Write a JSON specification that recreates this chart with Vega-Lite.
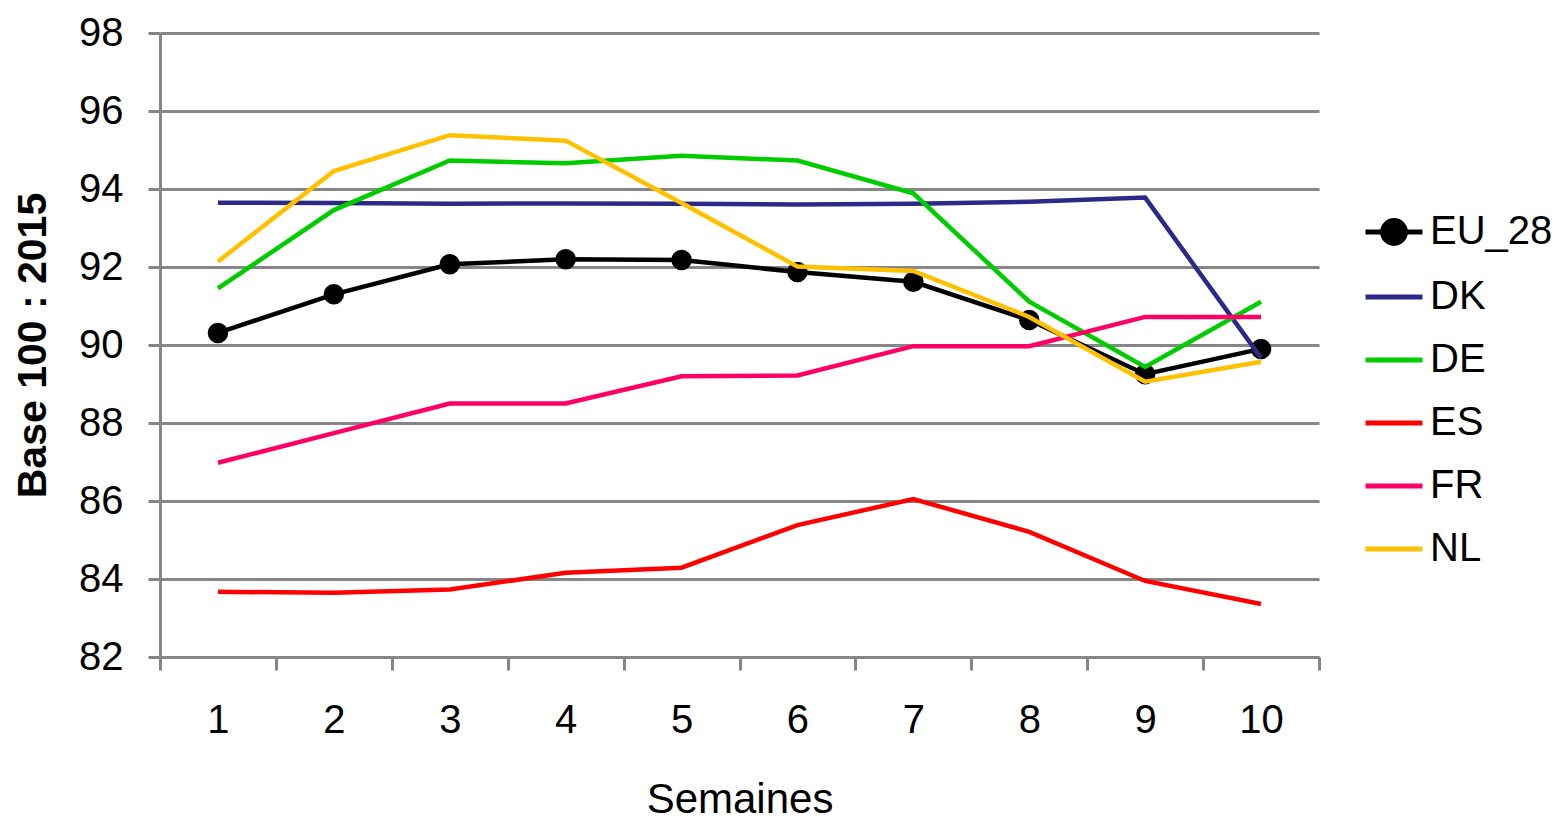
{
  "$schema": "https://vega.github.io/schema/vega-lite/v6.json",
  "width": 1159,
  "height": 624,
  "autosize": {"type": "none"},
  "padding": {"left": 160, "top": 33, "right": 237, "bottom": 164},
  "background": "white",
  "config": {
    "font": "Liberation Sans",
    "view": {"stroke": null},
    "axis": {"labelColor": "black", "titleColor": "black", "labelFont": "Liberation Sans", "titleFont": "Liberation Sans"},
    "legend": {"labelFont": "Liberation Sans"}
  },
  "data": {
    "values": [
      {"week": 1, "series": "EU_28", "value": 90.31},
      {"week": 2, "series": "EU_28", "value": 91.3},
      {"week": 3, "series": "EU_28", "value": 92.07},
      {"week": 4, "series": "EU_28", "value": 92.2},
      {"week": 5, "series": "EU_28", "value": 92.18},
      {"week": 6, "series": "EU_28", "value": 91.87},
      {"week": 7, "series": "EU_28", "value": 91.62},
      {"week": 8, "series": "EU_28", "value": 90.64},
      {"week": 9, "series": "EU_28", "value": 89.25},
      {"week": 10, "series": "EU_28", "value": 89.9},
      {"week": 1, "series": "DK", "value": 93.65},
      {"week": 2, "series": "DK", "value": 93.64},
      {"week": 3, "series": "DK", "value": 93.62},
      {"week": 4, "series": "DK", "value": 93.63},
      {"week": 5, "series": "DK", "value": 93.62},
      {"week": 6, "series": "DK", "value": 93.6},
      {"week": 7, "series": "DK", "value": 93.62},
      {"week": 8, "series": "DK", "value": 93.67},
      {"week": 9, "series": "DK", "value": 93.78},
      {"week": 10, "series": "DK", "value": 89.67},
      {"week": 1, "series": "DE", "value": 91.45},
      {"week": 2, "series": "DE", "value": 93.46},
      {"week": 3, "series": "DE", "value": 94.73},
      {"week": 4, "series": "DE", "value": 94.66},
      {"week": 5, "series": "DE", "value": 94.85},
      {"week": 6, "series": "DE", "value": 94.73},
      {"week": 7, "series": "DE", "value": 93.89},
      {"week": 8, "series": "DE", "value": 91.11},
      {"week": 9, "series": "DE", "value": 89.44},
      {"week": 10, "series": "DE", "value": 91.11},
      {"week": 1, "series": "ES", "value": 83.67},
      {"week": 2, "series": "ES", "value": 83.65},
      {"week": 3, "series": "ES", "value": 83.73},
      {"week": 4, "series": "ES", "value": 84.16},
      {"week": 5, "series": "ES", "value": 84.29},
      {"week": 6, "series": "ES", "value": 85.38},
      {"week": 7, "series": "ES", "value": 86.05},
      {"week": 8, "series": "ES", "value": 85.21},
      {"week": 9, "series": "ES", "value": 83.95},
      {"week": 10, "series": "ES", "value": 83.36},
      {"week": 1, "series": "FR", "value": 86.98},
      {"week": 2, "series": "FR", "value": 87.74},
      {"week": 3, "series": "FR", "value": 88.5},
      {"week": 4, "series": "FR", "value": 88.5},
      {"week": 5, "series": "FR", "value": 89.2},
      {"week": 6, "series": "FR", "value": 89.22},
      {"week": 7, "series": "FR", "value": 89.97},
      {"week": 8, "series": "FR", "value": 89.97},
      {"week": 9, "series": "FR", "value": 90.72},
      {"week": 10, "series": "FR", "value": 90.72},
      {"week": 1, "series": "NL", "value": 92.14},
      {"week": 2, "series": "NL", "value": 94.46},
      {"week": 3, "series": "NL", "value": 95.38},
      {"week": 4, "series": "NL", "value": 95.24},
      {"week": 5, "series": "NL", "value": 93.64},
      {"week": 6, "series": "NL", "value": 92.01},
      {"week": 7, "series": "NL", "value": 91.9},
      {"week": 8, "series": "NL", "value": 90.72},
      {"week": 9, "series": "NL", "value": 89.06},
      {"week": 10, "series": "NL", "value": 89.57}
    ]
  },
  "encoding": {
    "x": {
      "field": "week",
      "type": "ordinal",
      "bandPosition": 0.5,
      "scale": {"type": "band", "paddingInner": 0, "paddingOuter": 0},
      "axis": {
        "title": "Semaines",
        "labelAngle": 0,
        "labelFontSize": 40,
        "labelPadding": 30,
        "tickBand": "extent",
        "tickSize": 13,
        "tickWidth": 3,
        "tickColor": "#868686",
        "domainColor": "#868686",
        "domainWidth": 3,
        "grid": false,
        "titleFontSize": 42,
        "titleFontWeight": "normal",
        "titleBaseline": "alphabetic",
        "titleY": 155
      }
    },
    "y": {
      "field": "value",
      "type": "quantitative",
      "scale": {"domain": [82, 98], "nice": false, "zero": false},
      "axis": {
        "title": "Base 100 : 2015",
        "values": [82, 84, 86, 88, 90, 92, 94, 96, 98],
        "labelFontSize": 40,
        "labelPadding": 25,
        "tickSize": 12,
        "tickWidth": 3,
        "tickColor": "#868686",
        "domainColor": "#868686",
        "domainWidth": 3,
        "grid": true,
        "gridColor": "#868686",
        "gridWidth": 3,
        "titleFontSize": 41,
        "titleFontWeight": "bold",
        "titleBaseline": "alphabetic",
        "titleX": -115,
        "titleY": 312,
        "titleAlign": "center",
        "titleAngle": -90
      }
    },
    "color": {
      "field": "series",
      "type": "nominal",
      "scale": {
        "domain": ["EU_28", "DK", "DE", "ES", "FR", "NL"],
        "range": ["#000000", "#2B2A88", "#00CC00", "#FF0000", "#FF0066", "#FFC000"]
      },
      "legend": {
        "title": null,
        "orient": "none",
        "legendX": 1203,
        "legendY": 168,
        "symbolType": "stroke",
        "symbolSize": 3249,
        "symbolStrokeWidth": 5,
        "labelFontSize": 40,
        "labelColor": "black",
        "labelOffset": 5,
        "rowPadding": 12,
        "encode": {
          "symbols": {
            "update": {
              "shape": {"signal": "datum.value === 'EU_28' ? 'M-1,0H1M0.4,0A0.4,0.4,0,1,1,-0.4,0A0.4,0.4,0,1,1,0.4,0' : 'stroke'"},
              "fill": {"signal": "datum.value === 'EU_28' ? '#000000' : 'transparent'"}
            }
          }
        }
      }
    }
  },
  "layer": [
    {
      "transform": [{"filter": "datum.series === 'EU_28'"}],
      "mark": {"type": "point", "filled": true, "size": 420, "opacity": 1, "shape": "circle"}
    },
    {
      "mark": {"type": "line", "strokeWidth": 4.5}
    }
  ]
}
